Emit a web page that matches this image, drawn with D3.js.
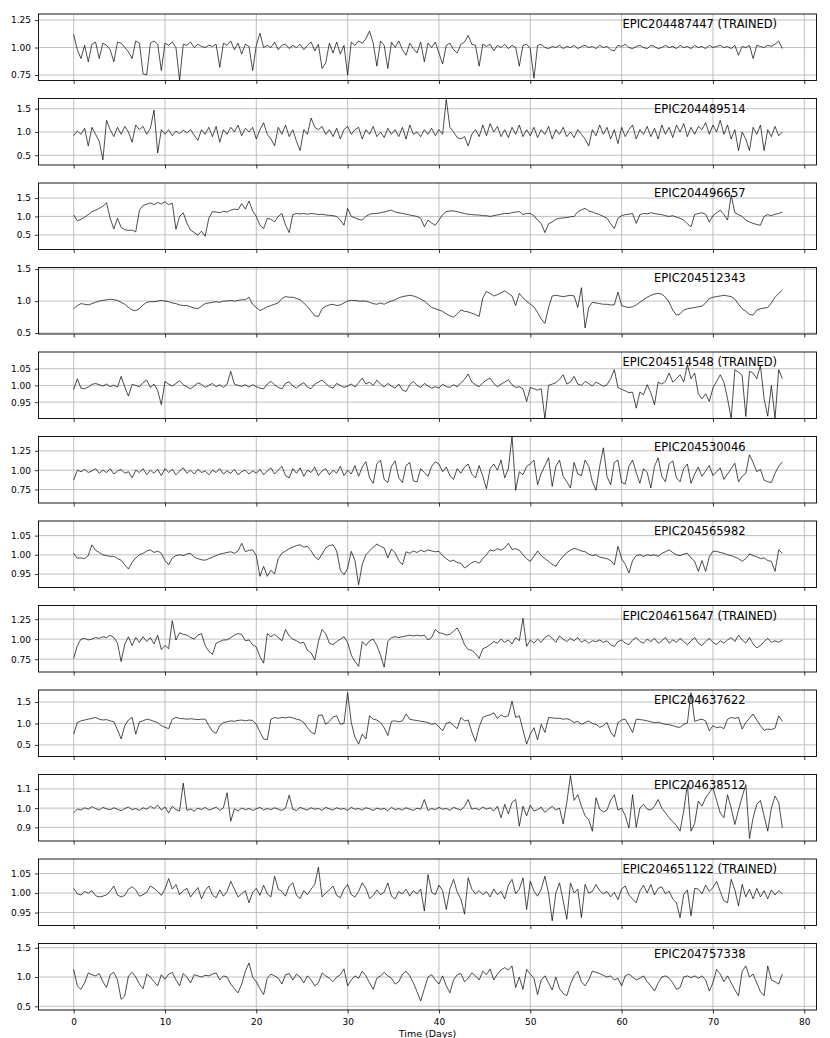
<!DOCTYPE html>
<html lang="en">
<head>
<meta charset="UTF-8">
<title>K2 light curves</title>
<script src="https://d3js.org/d3.v7.min.js"></script>
<style>
    body {
        margin: 0;
        background: #fff;
        font-family: "DejaVu Sans", sans-serif;
    }
    .grid line {
        stroke: #b0b0b0;
        stroke-width: 0.8;
    }
    .flux {
        fill: none;
        stroke: #000;
        stroke-width: 0.7;
        stroke-linejoin: round;
    }
    .frame {
        fill: none;
        stroke: #000;
        stroke-width: 0.9;
    }
</style>
</head>
<body>
<svg id="chart" width="830" height="1038"></svg>
<script>
    // every light curve runs from day 0 to day 77.6 at an even cadence
    const T_END = 77.6;
    const xTicks = [0, 10, 20, 30, 40, 50, 60, 70, 80];

    const starNames = [
        "EPIC204487447 (TRAINED)", "EPIC204489514", "EPIC204496657", "EPIC204512343",
        "EPIC204514548 (TRAINED)", "EPIC204530046", "EPIC204565982", "EPIC204615647 (TRAINED)",
        "EPIC204637622", "EPIC204638512", "EPIC204651122 (TRAINED)", "EPIC204757338"
    ];

    const yTickLabels = [
        ["0.75", "1.00", "1.25"], ["0.5", "1.0", "1.5"], ["0.5", "1.0", "1.5"], ["0.5", "1.0", "1.5"],
        ["0.95", "1.00", "1.05"], ["0.75", "1.00", "1.25"], ["0.95", "1.00", "1.05"], ["0.75", "1.00", "1.25"],
        ["0.5", "1.0", "1.5"], ["0.9", "1.0", "1.1"], ["0.95", "1.00", "1.05"], ["0.5", "1.0", "1.5"]
    ];

    const yLimits = [
        [0.70, 1.305], [0.29, 1.72], [0.10, 1.91], [0.485, 1.525],
        [0.901, 1.10], [0.575, 1.436], [0.915, 1.088], [0.59, 1.42],
        [0.23, 1.78], [0.829, 1.175], [0.917, 1.087], [0.437, 1.573]
    ];

    // normalised flux, one row per 10 days
    const epic204487447 = [
        1.12,0.98,0.90,1.02,0.87,1.03,1.05,0.90,1.04,1.02,0.98,0.87,1.05,1.04,1.00,0.96,0.90,1.06,1.04,0.76,0.75,1.04,1.06,1.03,0.79,
        1.04,1.02,1.05,1.00,0.70,1.03,1.02,1.05,1.00,1.03,1.01,1.00,1.02,1.01,1.03,0.82,1.04,1.02,1.06,0.98,1.04,0.94,1.03,1.01,0.79,
        1.02,1.13,1.00,1.02,1.00,1.05,0.98,1.02,1.03,0.99,1.02,1.00,1.03,0.98,1.02,1.05,0.97,1.03,0.81,0.86,1.04,0.95,1.05,0.94,1.02,
        0.75,1.05,1.02,1.06,1.04,1.08,1.15,1.04,0.83,1.06,1.02,0.81,1.05,1.00,1.06,0.98,0.93,1.04,0.99,0.95,1.05,0.87,1.04,1.00,1.05,
        0.95,0.85,1.02,1.04,0.98,0.95,1.03,1.05,1.11,1.03,1.02,0.83,1.03,1.01,1.03,0.97,1.02,1.00,1.03,0.99,1.02,1.00,0.83,1.02,1.03,
        0.99,0.72,1.02,1.03,1.00,0.99,1.01,1.00,1.02,0.99,1.01,1.00,1.02,0.99,1.01,1.02,1.00,1.01,0.99,1.02,1.00,1.01,0.98,0.97,1.02,
        1.01,1.03,1.00,0.99,1.01,1.02,1.00,0.99,1.02,1.01,0.99,1.00,1.02,1.00,1.01,0.99,1.02,1.00,1.01,0.99,1.02,1.00,1.01,0.99,1.02,
        1.00,1.01,1.02,1.00,1.01,0.99,1.02,0.93,1.01,1.00,1.02,0.90,1.02,1.01,1.00,1.02,1.01,1.03,1.06,0.99
    ];
    const epic204489514 = [
        0.92,1.02,0.95,1.08,0.70,1.10,0.95,0.80,0.40,1.25,1.05,0.90,1.10,0.95,1.12,1.00,0.78,1.15,1.05,1.12,0.95,1.08,1.47,0.55,1.05,
        0.95,1.05,0.92,1.02,0.96,1.04,0.98,1.05,0.93,0.82,1.05,0.95,1.10,0.90,1.12,0.78,1.05,0.95,1.10,1.00,1.15,0.92,1.08,1.00,1.10,
        0.85,1.05,1.20,0.95,0.85,0.70,1.10,0.95,1.15,0.90,1.05,0.80,0.60,1.05,0.95,1.30,1.10,1.05,1.12,0.95,1.05,0.90,1.08,0.85,1.05,
        1.12,0.95,1.05,1.10,0.85,1.05,0.95,1.12,0.90,1.00,0.88,1.08,0.95,1.05,0.90,1.10,0.85,1.15,0.95,1.00,0.90,1.05,0.95,1.08,0.92,
        1.05,0.95,1.70,1.10,1.00,0.88,0.85,0.90,0.70,0.95,1.05,0.90,1.15,0.92,1.18,1.00,1.12,0.90,1.05,0.88,1.10,0.95,1.15,0.90,1.05,
        0.92,1.10,0.88,1.05,0.95,1.12,0.85,1.05,0.95,1.10,0.90,1.00,0.88,1.05,0.95,0.85,0.70,1.05,0.92,1.15,0.95,1.10,0.85,1.05,0.75,
        1.10,0.90,1.05,1.15,0.85,1.05,0.95,1.12,0.90,1.08,0.85,1.15,0.95,1.10,0.88,1.15,1.00,1.18,0.90,1.10,0.95,1.12,1.05,1.20,0.95,
        1.15,1.00,1.25,0.95,1.15,0.85,1.05,0.60,1.00,0.85,0.60,1.10,0.95,1.15,0.60,1.05,0.90,1.12,0.92,1.00
    ];
    const epic204496657 = [
        1.04,0.88,0.92,0.98,1.05,1.13,1.17,1.22,1.28,1.37,0.95,0.66,0.95,0.70,0.64,0.62,0.63,0.58,1.17,1.30,1.33,1.37,1.32,1.38,1.34,
        1.40,1.32,1.36,0.65,1.00,1.10,0.82,0.63,0.56,0.49,0.60,0.46,0.95,1.13,1.12,1.10,1.14,1.12,1.17,1.20,1.18,1.35,1.20,1.42,1.15,
        1.00,0.76,0.67,0.95,0.92,0.85,1.00,1.08,0.76,0.56,1.05,1.08,1.07,1.08,1.06,1.08,1.07,1.05,1.06,1.04,1.03,1.02,1.00,0.90,0.76,
        1.22,1.00,0.96,0.92,0.90,1.00,1.06,1.08,1.08,1.10,1.12,1.15,1.17,1.12,1.10,1.08,1.06,1.04,1.02,1.00,0.95,0.72,0.90,0.82,0.76,
        0.90,1.05,1.13,1.15,1.15,1.13,1.10,1.08,1.06,1.05,1.04,1.04,1.02,1.02,1.00,1.02,1.04,1.06,1.08,1.08,1.10,1.12,1.13,1.05,1.08,
        1.08,1.02,0.90,0.81,0.56,0.80,0.85,0.92,0.95,0.96,0.97,0.99,1.00,1.13,1.18,1.22,1.15,1.12,1.08,1.05,1.00,0.95,0.80,0.67,0.95,
        1.02,1.05,1.06,1.08,0.81,1.05,1.08,1.07,1.10,1.08,1.06,1.05,1.02,1.00,1.02,0.98,0.95,0.90,0.80,0.72,1.05,1.08,1.10,1.06,0.85,
        1.02,1.10,1.17,1.05,0.90,1.58,1.10,1.05,1.00,0.90,0.85,0.81,0.78,0.76,1.00,1.05,1.02,1.06,1.08,1.12
    ];
    const epic204512343 = [
        0.88,0.93,0.96,0.95,0.94,0.96,0.98,1.00,1.01,1.02,1.03,1.02,1.01,0.98,0.95,0.90,0.86,0.85,0.88,0.94,0.98,0.99,0.99,1.00,1.01,
        1.00,0.99,0.97,0.96,0.94,0.93,0.93,0.91,0.89,0.88,0.92,0.96,0.97,0.98,0.99,0.98,1.00,1.00,1.01,1.00,1.01,1.02,1.02,1.06,0.95,
        0.90,0.85,0.88,0.91,0.93,0.95,0.97,1.04,1.07,1.06,1.06,1.04,1.02,0.97,0.91,0.84,0.77,0.76,0.88,0.92,0.94,0.95,0.93,0.94,0.97,
        1.00,1.01,1.01,1.00,1.00,1.00,0.98,0.96,0.95,0.97,0.95,0.98,1.00,1.02,1.05,1.07,1.08,1.09,1.08,1.06,1.03,1.00,0.95,0.90,0.88,
        0.86,0.84,0.80,0.77,0.75,0.80,0.86,0.84,0.83,0.81,0.79,0.76,1.05,1.15,1.12,1.08,1.10,1.13,1.16,1.12,1.08,0.93,1.12,1.05,1.00,
        0.95,0.91,0.82,0.72,0.65,0.90,1.08,1.09,1.08,1.07,1.08,1.09,1.08,0.90,1.21,0.58,0.90,0.98,0.97,0.96,0.95,0.95,0.94,0.94,1.14,
        0.93,0.91,0.90,0.91,0.94,0.98,1.02,1.06,1.09,1.11,1.12,1.11,1.06,0.98,0.86,0.78,0.80,0.86,0.88,0.89,0.90,0.91,0.92,0.97,1.04,
        1.06,1.07,1.08,1.09,1.08,1.07,1.03,0.95,0.88,0.84,0.79,0.78,0.86,0.88,0.89,0.90,0.97,1.06,1.12,1.17
    ];
    const epic204514548 = [
        0.988,1.020,0.992,0.990,0.995,1.003,1.006,1.002,0.998,1.004,0.996,1.001,0.995,1.027,0.995,0.968,1.003,1.000,0.996,1.008,1.016,0.994,1.004,0.985,0.942,
        1.012,1.004,0.998,1.006,1.014,1.002,0.996,0.990,0.998,1.008,1.003,0.994,1.000,1.006,0.996,1.002,0.994,1.004,1.042,1.004,1.000,0.997,1.002,0.995,1.002,
        0.996,0.992,0.990,1.004,1.012,1.002,0.994,0.990,1.006,1.011,0.998,0.992,1.002,1.008,0.995,0.990,1.004,1.010,1.016,1.006,0.996,0.992,1.006,1.000,0.994,
        0.998,1.004,0.995,1.008,1.022,1.004,1.010,1.000,1.016,1.004,0.995,1.006,0.998,0.992,1.004,0.986,0.982,1.002,1.012,1.000,0.994,1.006,0.998,0.992,0.996,
        0.992,1.004,0.996,0.994,1.002,0.996,1.008,1.018,1.034,1.010,1.002,0.996,1.008,1.016,1.022,1.006,0.996,1.004,1.010,1.017,1.002,0.994,0.996,0.990,0.952,
        0.994,0.990,0.986,0.990,0.900,1.000,1.004,1.008,1.018,1.032,1.004,1.010,1.027,1.004,1.000,1.012,1.006,0.998,1.010,1.004,0.997,1.002,1.020,1.047,0.994,
        0.988,0.984,0.978,0.980,0.932,0.980,0.972,1.002,0.978,0.942,1.010,1.004,1.012,1.037,1.010,1.020,1.032,1.010,1.062,1.020,1.037,0.975,0.960,0.975,0.952,
        0.992,1.012,1.032,1.010,0.960,0.900,1.047,1.040,1.030,0.907,1.042,1.037,1.020,1.060,0.960,0.908,1.000,0.900,1.047,1.020
    ];
    const epic204530046 = [
        0.87,1.00,0.98,1.01,0.97,0.99,1.02,0.96,1.00,0.97,1.02,0.95,0.99,1.01,0.96,0.98,0.90,1.00,0.97,1.02,0.94,1.00,0.96,1.01,0.93,
        1.02,0.97,1.01,0.94,0.99,1.03,0.96,1.00,0.95,1.01,0.97,0.99,0.94,1.00,0.97,1.02,0.95,0.99,0.96,1.01,0.94,0.98,1.00,0.95,0.99,
        0.96,1.01,0.94,0.99,1.03,0.95,1.00,1.05,0.93,0.90,1.02,0.96,1.03,0.92,1.00,0.97,1.04,0.93,0.99,1.02,0.94,1.00,0.96,1.05,0.93,
        1.00,0.95,1.06,0.92,1.04,1.11,0.90,0.83,1.08,1.13,0.88,0.84,1.05,1.12,0.90,0.84,1.06,1.10,0.86,0.85,1.02,0.97,0.92,1.05,1.11,
        1.08,0.98,1.04,0.93,0.88,1.02,0.96,1.04,1.08,0.95,0.90,1.06,0.92,0.76,1.02,1.08,1.00,1.13,0.90,1.02,1.44,0.74,0.98,0.94,1.05,
        1.08,1.13,0.81,0.96,1.06,1.16,0.79,1.05,1.13,0.92,0.85,0.77,1.10,0.95,0.93,1.13,1.05,0.85,0.74,1.05,1.29,0.92,0.81,1.10,1.13,
        0.84,0.82,1.05,1.13,0.97,0.83,1.02,0.97,0.77,1.05,1.16,0.92,0.85,1.08,1.12,0.90,0.85,1.02,1.08,0.83,0.95,1.04,0.92,0.99,1.06,
        0.93,0.98,1.03,0.88,0.95,1.02,1.09,0.85,0.92,0.96,1.20,1.10,0.98,1.01,0.87,0.85,0.84,0.96,1.05,1.11
    ];
    const epic204565982 = [
        1.004,0.991,0.992,0.990,0.998,1.026,1.012,1.006,1.000,0.998,0.996,0.996,0.990,0.986,0.974,0.963,0.980,0.992,1.000,1.004,1.010,1.013,1.006,1.010,1.004,
        0.985,0.974,0.992,0.998,1.000,0.998,1.002,1.004,0.994,0.990,0.987,0.986,0.990,0.994,0.998,1.002,1.004,1.006,1.008,1.004,1.010,1.030,1.008,1.012,1.013,
        0.998,0.944,0.970,0.944,0.960,0.950,0.990,1.004,1.010,1.016,1.020,1.024,1.026,1.020,1.022,1.010,0.995,0.987,1.002,1.018,1.024,1.026,1.010,0.960,0.948,
        0.965,1.009,0.985,0.922,0.975,1.000,1.010,1.020,1.028,1.022,1.018,0.992,1.015,1.005,0.985,0.974,1.008,1.004,1.010,1.006,1.012,1.008,1.013,1.010,1.008,
        1.009,0.998,0.990,0.983,0.986,0.980,0.978,0.966,0.972,0.980,0.983,0.978,0.990,1.000,1.013,1.010,1.016,1.012,1.018,1.030,1.014,1.016,1.012,1.000,0.990,
        0.983,0.996,1.010,0.998,0.990,0.983,0.975,0.970,0.985,0.996,1.006,1.012,1.017,1.014,1.010,1.008,1.002,0.998,1.000,0.994,0.992,0.990,0.985,0.974,1.022,
        0.990,0.975,0.953,0.985,0.998,1.000,0.996,1.000,0.998,1.000,0.996,1.004,1.008,1.013,1.006,1.000,0.998,1.002,1.004,0.992,0.983,0.957,0.985,0.957,0.995,
        1.009,1.009,1.006,1.004,1.000,0.998,0.994,0.990,0.983,0.990,1.002,0.998,0.995,0.990,0.992,0.985,0.983,0.957,1.013,1.004
    ];
    const epic204615647 = [
        0.76,0.92,1.00,1.01,0.99,1.00,1.02,1.01,1.03,1.02,1.05,1.02,0.95,0.72,0.94,1.03,0.92,1.02,0.96,1.03,0.97,1.02,0.94,1.05,0.87,
        0.92,0.88,1.23,0.99,1.08,1.06,1.05,1.02,1.00,1.05,1.07,0.92,0.85,0.81,0.95,0.97,0.99,0.99,1.02,1.05,1.07,1.06,0.98,0.99,0.93,
        0.90,0.78,0.70,1.07,1.03,1.06,1.02,0.98,1.12,1.04,1.00,0.98,0.95,0.96,0.86,0.83,0.74,0.97,1.12,1.07,0.95,0.93,0.97,1.00,1.03,
        0.96,0.80,0.72,0.66,0.97,0.92,0.98,1.00,0.92,0.80,0.65,0.97,1.02,1.03,1.02,1.03,1.04,1.05,1.04,1.05,1.04,1.05,0.99,1.02,1.12,
        1.08,1.07,1.05,1.06,1.10,1.14,1.05,0.93,0.87,0.86,0.82,0.76,0.88,0.90,0.93,0.97,0.95,1.00,0.96,0.99,0.94,1.02,0.98,1.26,0.91,
        0.99,0.95,1.00,0.96,1.02,1.05,1.01,0.96,1.04,1.00,0.97,1.01,0.98,1.02,0.96,0.99,0.95,0.98,0.97,0.99,0.96,0.98,0.93,0.91,0.97,
        0.99,0.95,0.93,0.99,1.02,0.97,0.95,1.00,0.97,1.01,0.95,0.98,1.02,0.95,0.99,0.96,1.01,0.97,0.93,0.98,1.02,0.95,0.92,0.97,1.01,
        0.96,0.93,0.98,0.95,0.99,1.02,0.97,1.05,0.99,0.95,1.02,0.94,0.89,0.92,0.97,1.01,0.96,0.98,0.96,0.99
    ];
    const epic204637622 = [
        0.75,1.02,1.06,1.08,1.10,1.12,1.14,1.10,1.08,1.09,1.06,1.04,0.85,0.64,0.95,1.08,1.14,0.75,1.04,1.06,1.10,1.08,1.05,1.02,0.95,
        0.91,0.88,1.10,1.14,1.12,1.11,1.10,1.11,1.10,1.09,1.10,1.10,0.95,0.82,0.77,0.95,1.02,1.04,1.06,1.05,1.07,1.08,1.06,1.08,1.07,
        0.98,0.80,0.64,0.62,1.10,1.14,1.12,1.14,1.13,1.15,1.13,1.10,1.08,1.02,0.90,0.80,0.75,1.18,1.20,0.98,1.05,1.15,1.18,0.98,1.00,
        1.72,1.02,0.68,0.52,0.75,0.64,1.18,1.10,1.08,1.02,0.90,0.72,1.05,1.06,1.04,1.06,1.22,1.10,1.08,1.07,1.05,1.04,1.02,0.98,1.00,
        0.92,0.83,1.00,1.03,0.95,0.88,1.14,1.06,1.08,0.80,0.58,0.92,1.14,1.18,1.20,1.25,1.12,1.20,1.15,1.18,1.52,1.14,1.18,0.85,0.52,
        0.75,0.90,0.62,0.98,0.79,1.14,1.13,1.12,1.12,1.10,1.11,1.08,1.02,1.05,0.98,1.02,1.06,1.00,0.98,0.91,0.95,1.02,0.80,0.69,1.02,
        1.08,1.10,0.95,0.79,1.10,1.09,1.08,1.06,1.04,1.02,1.03,1.00,0.98,0.97,0.95,0.92,0.91,0.98,1.01,1.72,1.05,1.08,1.10,1.06,0.83,
        0.95,0.90,0.92,0.88,1.10,1.14,1.12,1.14,0.87,1.02,1.12,1.22,1.08,0.95,0.84,0.87,0.86,0.89,1.18,1.05
    ];
    const epic204638512 = [
        0.976,0.995,0.990,1.002,0.994,1.008,0.998,0.990,1.004,0.996,0.992,1.002,0.994,0.986,0.998,1.006,0.992,0.998,0.988,1.002,0.994,1.010,0.998,1.016,0.990,
        1.006,0.975,1.010,0.992,0.985,1.130,0.988,0.996,0.984,1.000,0.992,1.004,0.990,0.996,1.006,0.988,1.002,1.080,0.932,0.996,0.985,1.000,0.992,0.998,0.988,
        0.996,1.004,0.990,0.998,0.992,1.002,0.994,0.988,1.000,1.068,0.994,0.988,1.004,0.996,0.990,1.002,0.994,0.998,0.988,1.004,0.996,0.990,1.002,0.994,0.998,
        0.988,1.004,0.994,0.998,0.990,1.002,0.996,0.988,1.000,0.994,0.998,0.986,1.004,0.992,0.998,0.990,1.002,0.994,0.988,1.000,0.994,1.045,0.988,0.998,0.992,
        1.004,0.994,0.998,0.988,1.004,0.996,0.990,1.008,1.045,0.994,1.000,0.990,1.006,0.994,1.002,0.985,1.010,0.950,1.020,0.970,1.030,1.045,0.906,1.010,0.960,
        1.015,0.985,0.992,1.005,0.978,0.995,1.010,0.990,1.000,0.918,1.030,1.170,1.040,1.070,1.010,0.960,0.940,0.880,1.054,0.995,0.980,0.990,1.040,1.070,0.990,
        1.000,0.960,0.897,1.070,0.900,1.000,1.020,0.995,0.990,1.010,1.045,1.000,0.975,0.950,0.930,0.910,0.880,0.985,1.123,0.880,0.920,1.037,1.010,1.054,1.080,
        1.106,1.040,0.975,0.950,1.070,1.000,0.915,0.990,1.060,1.123,0.842,0.950,1.020,1.040,0.960,0.880,1.000,1.063,1.030,0.897
    ];
    const epic204651122 = [
        1.012,0.998,0.995,1.004,1.000,1.006,0.993,0.990,0.992,0.995,1.005,1.018,0.995,0.990,0.994,1.010,1.016,1.008,0.992,0.996,1.002,1.018,1.012,1.004,0.994,
        1.010,1.037,1.010,1.022,0.996,1.006,1.012,0.990,1.002,1.014,0.985,1.006,1.018,0.995,0.988,1.008,0.992,1.004,1.030,1.010,0.990,0.998,1.006,0.975,1.002,
        1.012,0.994,1.020,0.998,0.990,1.043,1.010,1.004,0.992,1.018,1.026,0.994,0.986,1.006,0.996,1.010,1.022,1.066,0.990,1.000,1.008,1.018,0.994,0.988,1.010,
        1.022,0.996,0.990,1.004,1.026,1.012,0.986,0.994,1.008,0.996,1.002,1.026,0.992,0.985,1.004,0.998,1.010,0.992,1.006,0.998,1.010,0.954,1.047,1.002,0.996,
        1.020,1.006,0.958,1.010,1.035,1.002,0.985,0.946,1.039,1.010,0.998,1.006,0.996,1.004,0.990,1.010,0.996,1.004,0.985,1.020,1.035,0.998,1.010,1.039,0.958,
        1.030,1.005,0.992,1.010,1.043,1.000,0.929,1.000,1.026,0.980,0.933,1.026,1.000,1.010,0.937,1.022,1.000,1.004,1.022,1.006,0.998,1.004,0.990,1.002,0.983,
        1.010,1.018,0.995,0.985,0.975,1.005,1.020,1.000,1.022,0.995,1.012,1.016,0.998,1.005,0.985,0.975,0.937,0.996,1.008,0.942,1.012,1.010,0.998,1.020,1.004,
        1.014,1.030,1.004,0.980,0.975,1.035,1.008,0.967,1.022,0.990,1.010,0.985,1.012,0.990,1.006,0.985,1.008,0.995,1.006,0.998
    ];
    const epic204757338 = [
        1.13,0.85,0.79,0.90,1.07,1.04,1.02,1.06,0.92,0.82,1.04,1.08,0.95,0.62,0.68,1.02,1.08,1.00,0.88,0.80,1.05,1.00,0.92,0.85,1.04,
        0.96,1.05,1.08,0.95,0.85,1.06,1.00,0.90,1.04,1.02,1.00,1.03,1.02,1.05,1.07,0.95,1.02,1.00,0.88,0.80,0.73,0.88,1.10,1.24,1.00,
        0.92,0.80,0.70,0.98,1.05,1.02,0.98,0.88,1.04,1.06,0.95,1.05,1.00,0.90,1.02,0.95,0.85,0.90,1.07,1.02,0.98,0.92,1.00,1.04,1.14,
        0.85,0.95,1.02,0.98,1.10,1.02,0.90,0.79,0.98,1.02,1.08,1.02,0.98,0.88,0.92,1.05,1.10,1.02,0.90,0.75,0.59,0.80,1.00,1.04,0.95,
        0.88,1.02,0.85,0.73,0.95,1.04,1.06,0.92,0.98,1.07,1.02,0.95,1.10,1.04,1.14,0.95,1.05,1.12,1.16,1.12,1.19,0.82,1.00,0.79,1.13,
        1.05,0.98,0.70,0.95,1.02,0.90,0.78,1.00,0.80,0.72,0.68,0.88,1.02,1.10,0.92,0.85,0.95,1.10,1.08,1.06,1.03,1.00,1.02,0.95,0.98,
        0.85,1.02,1.05,1.00,0.95,0.98,1.02,0.92,0.85,0.76,0.90,1.00,1.02,0.98,0.90,0.79,0.82,1.00,1.02,0.99,1.02,0.98,1.02,0.95,0.76,
        0.90,1.13,1.05,0.92,1.02,0.90,0.78,0.68,1.10,1.19,1.00,1.05,0.90,0.75,0.68,1.19,0.95,0.92,0.88,1.05
    ];

    const fluxes = [
        epic204487447, epic204489514, epic204496657, epic204512343,
        epic204514548, epic204530046, epic204565982, epic204615647,
        epic204637622, epic204638512, epic204651122, epic204757338
    ];

    const left = 38.5, right = 816.5;
    const firstTop = 14, rowStep = 84.5, panelH = 66.5;

    const svg = d3.select("#chart");
    const x = d3.scaleLinear().domain([-3.85, 81.34]).range([left, right]);

    fluxes.forEach((flux, i) => {
        const top = firstTop + rowStep * i;
        const bottom = top + panelH;
        const y = d3.scaleLinear().domain(yLimits[i]).range([bottom, top]);
        const yTicks = yTickLabels[i].map(Number);
        const g = svg.append("g");

        // grid
        const grid = g.append("g").attr("class", "grid");
        grid.selectAll("line.v").data(xTicks).join("line").attr("class", "v")
            .attr("x1", d => x(d)).attr("x2", d => x(d))
            .attr("y1", top).attr("y2", bottom);
        grid.selectAll("line.h").data(yTicks).join("line").attr("class", "h")
            .attr("x1", left).attr("x2", right)
            .attr("y1", d => y(d)).attr("y2", d => y(d));

        svg.append("clipPath").attr("id", "clip" + i)
            .append("rect").attr("x", left).attr("y", top)
            .attr("width", right - left).attr("height", panelH);

        const dt = T_END / (flux.length - 1);
        const line = d3.line().x((d, j) => x(j * dt)).y(d => y(d));
        g.append("path").datum(flux)
            .attr("class", "flux")
            .attr("clip-path", `url(#clip${i})`)
            .attr("d", line);

        g.append("text")
            .attr("x", left + 0.85 * (right - left))
            .attr("y", top + 14.3)
            .attr("text-anchor", "middle")
            .attr("font-family", "DejaVu Sans")
            .attr("font-size", 11.5)
            .text(starNames[i]);

        const xAxis = d3.axisBottom(x).tickValues(xTicks).tickSize(3.5).tickPadding(5);
        if (i < fluxes.length - 1) xAxis.tickFormat("");
        g.append("g").attr("transform", `translate(0,${bottom})`)
            .call(xAxis)
            .attr("font-family", "DejaVu Sans").attr("font-size", 9)
            .call(a => a.select(".domain").remove())
            .call(a => a.selectAll(".tick line").attr("stroke-width", 0.8));

        const yAxis = d3.axisLeft(y).tickValues(yTicks)
            .tickFormat((d, k) => yTickLabels[i][k])
            .tickSize(3.5).tickPadding(4);
        g.append("g").attr("transform", `translate(${left},0)`)
            .call(yAxis)
            .attr("font-family", "DejaVu Sans").attr("font-size", 9)
            .call(a => a.select(".domain").remove())
            .call(a => a.selectAll(".tick line").attr("stroke-width", 0.8));

        g.append("rect").attr("class", "frame")
            .attr("x", left).attr("y", top)
            .attr("width", right - left).attr("height", panelH);
    });

    svg.append("text")
        .attr("x", (left + right) / 2)
        .attr("y", 1036.5)
        .attr("text-anchor", "middle")
        .attr("font-family", "DejaVu Sans")
        .attr("font-size", 9.5)
        .text("Time (Days)");
</script>
</body>
</html>
